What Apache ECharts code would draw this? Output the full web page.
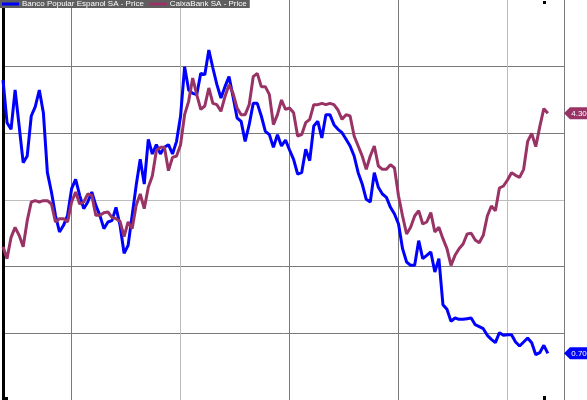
<!DOCTYPE html>
<html>
<head>
<meta charset="utf-8">
<script src="https://cdn.jsdelivr.net/npm/echarts@6/dist/echarts.min.js"></script>
<style>
html,body{margin:0;padding:0;background:#fff;}
#c{width:587px;height:400px;}
</style>
</head>
<body>
<div id="c"></div>
<script>
// Series names
const seriesNames = ['Banco Popular Espanol SA - Price', 'CaixaBank SA - Price'];

// Time index (weekly-ish steps); 140 slots across the plot, data fills the first 136
const categories = Array.from({length: 140}, (_, i) => String(i));

// Vertical gridline positions (year boundaries) on the category index
const yearBreaks = [17, 44, 71, 98, 125, 139];

// Banco Popular Espanol SA - Price (EUR)
const popular = [
  4.80,4.16,4.06,4.65,4.11,3.56,3.66,4.26,4.40,4.65,
  4.31,3.41,3.12,2.77,2.52,2.62,2.77,3.17,3.31,3.07,
  2.87,2.97,3.12,2.92,2.77,2.57,2.67,2.69,2.89,2.62,
  2.20,2.32,2.77,3.22,3.61,3.24,3.91,3.69,3.83,3.69,
  3.79,3.83,3.69,3.88,4.26,5.00,4.65,4.60,4.58,4.90,
  4.88,5.25,4.98,4.73,4.53,4.70,4.85,4.55,4.23,4.18,
  3.88,4.13,4.45,4.45,4.26,4.03,3.98,3.79,3.98,3.81,
  3.90,3.75,3.61,3.39,3.41,3.76,3.59,4.11,4.18,3.93,
  4.28,4.28,4.13,4.06,4.01,3.91,3.81,3.66,3.41,3.24,
  3.01,2.97,3.41,3.19,3.09,3.04,2.89,2.79,2.64,2.27,
  2.07,2.02,2.02,2.39,2.12,2.17,2.22,1.92,2.12,1.43,
  1.36,1.18,1.23,1.21,1.21,1.22,1.23,1.13,1.10,1.07,
  0.97,0.91,0.86,1.01,0.97,0.98,0.98,0.87,0.81,0.87,
  0.93,0.86,0.68,0.71,0.82,0.70
];

// CaixaBank SA - Price (EUR)
const caixa = [
  2.30,2.12,2.44,2.59,2.47,2.30,2.69,2.97,2.99,2.97,
  2.99,2.99,2.94,2.67,2.72,2.72,2.67,2.97,3.12,2.94,
  2.97,3.09,3.07,2.77,2.77,2.81,2.82,2.74,2.72,2.68,
  2.45,2.67,2.57,2.92,3.09,2.87,3.19,3.36,3.74,3.79,
  3.79,3.44,3.64,3.66,3.83,4.28,4.48,4.83,4.58,4.36,
  4.41,4.68,4.45,4.43,4.33,4.55,4.73,4.60,4.38,4.28,
  4.28,4.43,4.85,4.90,4.70,4.70,4.58,4.13,4.28,4.50,
  4.36,4.38,4.31,3.96,3.98,4.16,4.21,4.43,4.43,4.45,
  4.43,4.45,4.43,4.35,4.21,4.28,4.26,3.96,3.81,3.66,
  3.46,3.66,3.81,3.51,3.46,3.46,3.53,3.48,3.06,2.76,
  2.49,2.59,2.76,2.84,2.64,2.67,2.81,2.52,2.59,2.42,
  2.27,2.02,2.17,2.27,2.34,2.49,2.50,2.40,2.36,2.47,
  2.76,2.91,2.84,3.18,3.21,3.30,3.41,3.37,3.34,3.46,
  3.88,4.00,3.80,4.10,4.37,4.30
];

const colors = ['#0000ff', '#993366'];
const lastCat = categories[categories.length - 1];

function tag(color, values) {
  const v = values[values.length - 1];
  return {
    silent: true,
    symbol: 'path://M0,6 L6,0 L26,0 L26,12 L6,12 Z',
    symbolSize: [26, 12],
    symbolOffset: [13, 0],
    symbolKeepAspect: false,
    data: [{
      coord: [lastCat, v],
      value: v,
      itemStyle: {color: color},
      label: {
        show: true,
        position: 'inside',
        offset: [2, 0],
        formatter: v.toFixed(2),
        color: '#fff',
        fontSize: 8,
        fontFamily: 'Liberation Sans, Arial, sans-serif'
      }
    }]
  };
}

const chart = echarts.init(document.getElementById('c'), null, {renderer: 'canvas'});
chart.setOption({
  animation: false,
  backgroundColor: '#ffffff',
  color: colors,
  legend: {
    left: 0, top: 0,
    padding: [0, 3, 0, 2],
    itemGap: 6,
    itemWidth: 17,
    itemHeight: 3,
    icon: 'rect',
    backgroundColor: '#5e5e5e',
    borderRadius: 0,
    data: seriesNames,
    textStyle: {color: '#ffffff', fontSize: 8, lineHeight: 8, padding: [0,0,0,-2], fontFamily: 'Liberation Sans, Arial, sans-serif'}
  },
  grid: {left: 3, right: 23, top: 0, bottom: 0, containLabel: false},
  xAxis: {
    type: 'category',
    data: categories,
    boundaryGap: false,
    axisLabel: {show: false},
    axisTick: {show: false},
    axisLine: {show: false},
    splitLine: {
      show: true,
      interval: (idx) => yearBreaks.indexOf(idx) >= 0,
      lineStyle: {color: ['#7a7a7a', '#bdbdbd', '#7a7a7a', '#7a7a7a', '#bdbdbd', '#7a7a7a'], width: 1}
    }
  },
  yAxis: {
    type: 'value',
    min: 0, max: 6, interval: 1,
    axisLabel: {show: false},
    axisTick: {show: false},
    axisLine: {show: true, lineStyle: {color: '#000', width: 3}},
    splitLine: {
      show: true,
      lineStyle: {color: ['#ffffff', '#7a7a7a', '#7a7a7a', '#bdbdbd', '#7a7a7a', '#7a7a7a', '#ffffff'], width: 1}
    }
  },
  graphic: [
    {type: 'rect', shape: {x: 543, y: 0, width: 3, height: 4}, style: {fill: '#000'}},
    {type: 'rect', shape: {x: 543, y: 396, width: 3, height: 4}, style: {fill: '#000'}},
    {type: 'rect', shape: {x: 5, y: 397, width: 3, height: 3}, style: {fill: '#000'}}
  ],
  series: [
    {
      name: seriesNames[0], type: 'line', data: popular,
      showSymbol: false, symbol: 'none',
      lineStyle: {width: 3, color: colors[0]},
      markPoint: tag(colors[0], popular)
    },
    {
      name: seriesNames[1], type: 'line', data: caixa,
      showSymbol: false, symbol: 'none',
      lineStyle: {width: 3, color: colors[1]},
      markPoint: tag(colors[1], caixa)
    }
  ]
});
</script>
</body>
</html>
